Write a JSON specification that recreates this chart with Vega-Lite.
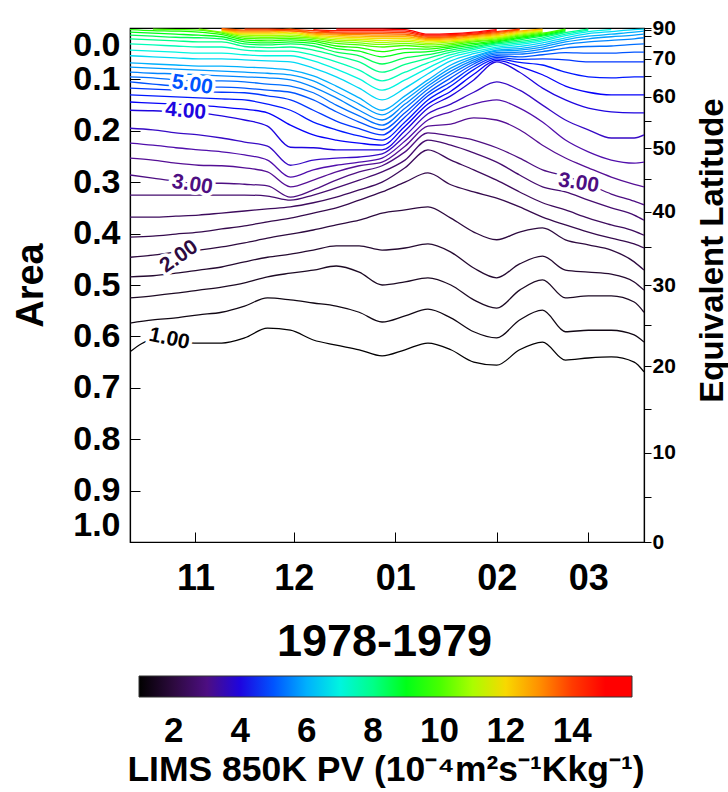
{
"$schema": "https://vega.github.io/schema/vega-lite/v6.json",
"width": 514, "height": 514,
"autosize": {"type": "none"},
"padding": {"left": 130, "top": 28, "right": 84, "bottom": 250},
"background": "white",
"config": {
 "view": {"stroke": "black", "strokeWidth": 1.2},
 "font": "Liberation Sans",
 "axis": {"grid": false, "labelFont": "Liberation Sans", "labelFontWeight": "bold", "titleFont": "Liberation Sans", "titleFontWeight": "bold", "labelColor": "black", "titleColor": "black", "tickColor": "black", "domainColor": "black", "labelOverlap": false, "labelBound": false}
},
"datasets": {
 "levels": [{"k":"100","v":1},{"k":"125","v":1.25},{"k":"150","v":1.5},{"k":"175","v":1.75},{"k":"200","v":2},{"k":"225","v":2.25},{"k":"250","v":2.5},{"k":"275","v":2.75},{"k":"300","v":3},{"k":"325","v":3.25},{"k":"350","v":3.5},{"k":"375","v":3.75},{"k":"400","v":4},{"k":"425","v":4.25},{"k":"450","v":4.5},{"k":"475","v":4.75},{"k":"500","v":5},{"k":"525","v":5.25},{"k":"550","v":5.5},{"k":"575","v":5.75},{"k":"600","v":6},{"k":"650","v":6.5},{"k":"700","v":7},{"k":"750","v":7.5},{"k":"800","v":8},{"k":"850","v":8.5},{"k":"900","v":9},{"k":"950","v":9.5},{"k":"1000","v":10},{"k":"1050","v":10.5},{"k":"1100","v":11},{"k":"1150","v":11.5},{"k":"1200","v":12},{"k":"1250","v":12.5},{"k":"1300","v":13},{"k":"1350","v":13.5},{"k":"1400","v":14},{"k":"1450","v":14.5},{"k":"1500","v":15}],
 "labels": [
  {"t":"1.00","v":1,"d":"1978-10-24","a":0.605},
  {"t":"2.00","v":2,"d":"1978-10-27","a":0.445},
  {"t":"3.00","v":3,"d":"1978-10-31","a":0.305},
  {"t":"4.00","v":4,"d":"1978-10-29","a":0.162},
  {"t":"5.00","v":5,"d":"1978-10-31","a":0.111},
  {"t":"3.00","v":3,"d":"1979-02-26","a":0.302}
 ],
 "grid": [
  {"d":"1978-10-12","100":0.630,"125":0.574,"150":0.525,"175":0.484,"200":0.446,"225":0.407,"250":0.368,"275":0.325,"300":0.286,"325":0.253,"350":0.224,"375":0.195,"400":0.160,"425":0.144,"450":0.130,"475":0.117,"500":0.105,"525":0.095,"550":0.086,"575":0.076,"600":0.068,"650":0.054,"700":0.043,"750":0.031,"800":0.021,"850":0.014,"900":0.008,"950":0.003},
  {"d":"1978-10-19","100":0.607,"125":0.568,"150":0.521,"175":0.482,"200":0.442,"225":0.405,"250":0.368,"275":0.325,"300":0.292,"325":0.257,"350":0.228,"375":0.198,"400":0.161,"425":0.146,"450":0.132,"475":0.119,"500":0.109,"525":0.097,"550":0.088,"575":0.078,"600":0.070,"650":0.056,"700":0.045,"750":0.033,"800":0.023,"850":0.016,"900":0.010,"950":0.005,"1000":0.002},
  {"d":"1978-10-26","100":0.611,"125":0.564,"150":0.516,"175":0.477,"200":0.436,"225":0.401,"250":0.366,"275":0.325,"300":0.298,"325":0.263,"350":0.233,"375":0.204,"400":0.163,"425":0.148,"450":0.134,"475":0.121,"500":0.113,"525":0.101,"550":0.089,"575":0.080,"600":0.072,"650":0.058,"700":0.047,"750":0.035,"800":0.025,"850":0.018,"900":0.012,"950":0.006,"1000":0.003},
  {"d":"1978-11-02","100":0.613,"125":0.558,"150":0.510,"175":0.471,"200":0.432,"225":0.397,"250":0.364,"275":0.325,"300":0.302,"325":0.267,"350":0.237,"375":0.208,"400":0.165,"425":0.150,"450":0.136,"475":0.123,"500":0.115,"525":0.103,"550":0.091,"575":0.082,"600":0.074,"650":0.060,"700":0.049,"750":0.037,"800":0.027,"850":0.019,"900":0.014,"950":0.008,"1000":0.004,"1050":0.002},
  {"d":"1978-11-09","100":0.613,"125":0.553,"150":0.504,"175":0.465,"200":0.426,"225":0.391,"250":0.360,"275":0.325,"300":0.302,"325":0.268,"350":0.241,"375":0.214,"400":0.171,"425":0.154,"450":0.138,"475":0.125,"500":0.115,"525":0.103,"550":0.093,"575":0.084,"600":0.074,"650":0.060,"700":0.049,"750":0.037,"800":0.027,"850":0.021,"900":0.017,"950":0.013,"1000":0.010,"1050":0.008,"1100":0.006,"1150":0.005,"1200":0.004,"1250":0.003,"1300":0.002,"1350":0.001},
  {"d":"1978-11-16","100":0.603,"125":0.541,"150":0.496,"175":0.455,"200":0.418,"225":0.385,"250":0.356,"275":0.325,"300":0.304,"325":0.272,"350":0.247,"375":0.222,"400":0.179,"425":0.158,"450":0.140,"475":0.126,"500":0.117,"525":0.105,"550":0.095,"575":0.086,"600":0.076,"650":0.062,"700":0.052,"750":0.043,"800":0.036,"850":0.031,"900":0.027,"950":0.023,"1000":0.020,"1050":0.017,"1100":0.014,"1150":0.012,"1200":0.010,"1250":0.008,"1300":0.006,"1350":0.004,"1400":0.002},
  {"d":"1978-11-23","100":0.584,"125":0.525,"150":0.484,"175":0.446,"200":0.409,"225":0.377,"250":0.352,"275":0.327,"300":0.307,"325":0.280,"350":0.257,"375":0.230,"400":0.191,"425":0.165,"450":0.148,"475":0.132,"500":0.121,"525":0.109,"550":0.097,"575":0.088,"600":0.078,"650":0.064,"700":0.054,"750":0.045,"800":0.038,"850":0.033,"900":0.029,"950":0.025,"1000":0.021,"1050":0.018,"1100":0.015,"1150":0.012,"1200":0.010,"1250":0.008,"1300":0.006,"1350":0.004,"1400":0.002},
  {"d":"1978-11-30","100":0.588,"125":0.529,"150":0.477,"175":0.440,"200":0.401,"225":0.370,"250":0.348,"275":0.335,"300":0.329,"325":0.309,"350":0.290,"375":0.267,"400":0.232,"425":0.189,"450":0.160,"475":0.140,"500":0.125,"525":0.113,"550":0.101,"575":0.091,"600":0.082,"650":0.066,"700":0.054,"750":0.045,"800":0.037,"850":0.031,"900":0.027,"950":0.023,"1000":0.020,"1050":0.017,"1100":0.014,"1150":0.011,"1200":0.008,"1250":0.005,"1300":0.002},
  {"d":"1978-12-07","100":0.607,"125":0.535,"150":0.471,"175":0.432,"200":0.393,"225":0.360,"250":0.340,"275":0.325,"300":0.315,"325":0.296,"350":0.276,"375":0.257,"400":0.233,"425":0.208,"450":0.183,"475":0.160,"500":0.140,"525":0.126,"550":0.115,"575":0.103,"600":0.093,"650":0.078,"700":0.064,"750":0.053,"800":0.043,"850":0.035,"900":0.030,"950":0.026,"1000":0.023,"1050":0.020,"1100":0.018,"1150":0.016,"1200":0.014,"1250":0.012,"1300":0.010,"1350":0.008,"1400":0.005,"1450":0.003},
  {"d":"1978-12-14","100":0.617,"125":0.541,"150":0.463,"175":0.424,"200":0.383,"225":0.350,"250":0.329,"275":0.311,"300":0.296,"325":0.280,"350":0.267,"375":0.253,"400":0.237,"425":0.218,"450":0.198,"475":0.181,"500":0.163,"525":0.150,"550":0.136,"575":0.125,"600":0.113,"650":0.095,"700":0.080,"750":0.066,"800":0.054,"850":0.047,"900":0.040,"950":0.035,"1000":0.030,"1050":0.026,"1100":0.023,"1150":0.020,"1200":0.017,"1250":0.014,"1300":0.012,"1350":0.010,"1400":0.008,"1450":0.005,"1500":0.002},
  {"d":"1978-12-21","100":0.626,"125":0.553,"150":0.475,"175":0.424,"200":0.374,"225":0.335,"250":0.315,"275":0.296,"300":0.280,"325":0.268,"350":0.261,"375":0.251,"400":0.237,"425":0.224,"450":0.210,"475":0.196,"500":0.183,"525":0.171,"550":0.160,"575":0.148,"600":0.136,"650":0.117,"700":0.099,"750":0.082,"800":0.066,"850":0.054,"900":0.045,"950":0.038,"1000":0.033,"1050":0.029,"1100":0.025,"1150":0.022,"1200":0.019,"1250":0.016,"1300":0.013,"1350":0.011,"1400":0.008,"1450":0.005,"1500":0.002},
  {"d":"1978-12-28","100":0.638,"125":0.572,"150":0.500,"175":0.432,"200":0.360,"225":0.319,"250":0.300,"275":0.280,"300":0.268,"325":0.261,"350":0.253,"375":0.245,"400":0.237,"425":0.228,"450":0.218,"475":0.208,"500":0.198,"525":0.189,"550":0.179,"575":0.169,"600":0.160,"650":0.140,"700":0.121,"750":0.103,"800":0.086,"850":0.070,"900":0.056,"950":0.046,"1000":0.037,"1050":0.032,"1100":0.028,"1150":0.024,"1200":0.020,"1250":0.017,"1300":0.014,"1350":0.011,"1400":0.008,"1450":0.005,"1500":0.002},
  {"d":"1979-01-04","100":0.626,"125":0.560,"150":0.494,"175":0.428,"200":0.354,"225":0.300,"250":0.272,"275":0.257,"300":0.241,"325":0.230,"350":0.220,"375":0.210,"400":0.200,"425":0.191,"450":0.183,"475":0.173,"500":0.165,"525":0.156,"550":0.148,"575":0.140,"600":0.132,"650":0.117,"700":0.101,"750":0.086,"800":0.071,"850":0.058,"900":0.048,"950":0.040,"1000":0.034,"1050":0.030,"1100":0.026,"1150":0.023,"1200":0.020,"1250":0.017,"1300":0.014,"1350":0.012,"1400":0.009,"1450":0.006,"1500":0.003},
  {"d":"1979-01-11","100":0.613,"125":0.547,"150":0.486,"175":0.420,"200":0.348,"225":0.282,"250":0.237,"275":0.218,"300":0.204,"325":0.191,"350":0.179,"375":0.167,"400":0.156,"425":0.148,"450":0.140,"475":0.132,"500":0.126,"525":0.119,"550":0.113,"575":0.107,"600":0.101,"650":0.089,"700":0.078,"750":0.068,"800":0.059,"850":0.052,"900":0.046,"950":0.041,"1000":0.037,"1050":0.033,"1100":0.030,"1150":0.027,"1200":0.024,"1250":0.022,"1300":0.020,"1350":0.018,"1400":0.016,"1450":0.014,"1500":0.012},
  {"d":"1979-01-18","100":0.626,"125":0.564,"150":0.500,"175":0.436,"200":0.370,"225":0.305,"250":0.257,"275":0.228,"300":0.210,"325":0.187,"350":0.163,"375":0.148,"400":0.132,"425":0.123,"450":0.113,"475":0.105,"500":0.097,"525":0.090,"550":0.084,"575":0.078,"600":0.072,"650":0.064,"700":0.057,"750":0.052,"800":0.047,"850":0.043,"900":0.039,"950":0.036,"1000":0.033,"1050":0.030,"1100":0.027,"1150":0.025,"1200":0.023,"1250":0.021,"1300":0.019,"1350":0.017,"1400":0.015,"1450":0.013,"1500":0.011},
  {"d":"1979-01-25","100":0.650,"125":0.591,"150":0.529,"175":0.467,"200":0.397,"225":0.319,"250":0.276,"275":0.243,"300":0.218,"325":0.175,"350":0.148,"375":0.125,"400":0.101,"425":0.090,"450":0.081,"475":0.075,"500":0.070,"525":0.066,"550":0.062,"575":0.058,"600":0.055,"650":0.050,"700":0.046,"750":0.042,"800":0.039,"850":0.036,"900":0.033,"950":0.030,"1000":0.027,"1050":0.025,"1100":0.023,"1150":0.021,"1200":0.019,"1250":0.017,"1300":0.015,"1350":0.013,"1400":0.012,"1450":0.010,"1500":0.008},
  {"d":"1979-02-01","100":0.656,"125":0.603,"150":0.545,"175":0.486,"200":0.412,"225":0.331,"250":0.296,"275":0.261,"300":0.233,"325":0.179,"350":0.140,"375":0.105,"400":0.066,"425":0.063,"450":0.060,"475":0.057,"500":0.054,"525":0.051,"550":0.048,"575":0.045,"600":0.043,"650":0.040,"700":0.037,"750":0.034,"800":0.031,"850":0.029,"900":0.027,"950":0.025,"1000":0.023,"1050":0.021,"1100":0.019,"1150":0.017,"1200":0.015,"1250":0.013,"1300":0.011,"1350":0.009,"1400":0.007,"1450":0.005,"1500":0.003},
  {"d":"1979-02-08","100":0.626,"125":0.568,"150":0.510,"175":0.459,"200":0.397,"225":0.348,"250":0.319,"275":0.286,"300":0.253,"325":0.198,"350":0.156,"375":0.121,"400":0.086,"425":0.075,"450":0.067,"475":0.061,"500":0.056,"525":0.051,"550":0.047,"575":0.043,"600":0.040,"650":0.036,"700":0.032,"750":0.029,"800":0.026,"850":0.023,"900":0.020,"950":0.018,"1000":0.016,"1050":0.014,"1100":0.012,"1150":0.010,"1200":0.008,"1250":0.006,"1300":0.004,"1350":0.003,"1400":0.002},
  {"d":"1979-02-15","100":0.611,"125":0.549,"150":0.490,"175":0.444,"200":0.389,"225":0.368,"250":0.340,"275":0.309,"300":0.276,"325":0.228,"350":0.183,"375":0.150,"400":0.117,"425":0.091,"450":0.072,"475":0.060,"500":0.052,"525":0.046,"550":0.041,"575":0.037,"600":0.033,"650":0.029,"700":0.025,"750":0.022,"800":0.019,"850":0.016,"900":0.014,"950":0.012,"1000":0.010,"1050":0.008,"1100":0.006,"1150":0.005,"1200":0.003,"1250":0.002},
  {"d":"1979-02-22","100":0.646,"125":0.591,"150":0.525,"175":0.471,"200":0.412,"225":0.383,"250":0.354,"275":0.319,"300":0.288,"325":0.253,"350":0.218,"375":0.179,"400":0.140,"425":0.113,"450":0.086,"475":0.062,"500":0.048,"525":0.039,"550":0.032,"575":0.027,"600":0.023,"650":0.019,"700":0.015,"750":0.012,"800":0.009,"850":0.007,"900":0.005,"950":0.003,"1000":0.002},
  {"d":"1979-03-01","100":0.642,"125":0.588,"150":0.521,"175":0.475,"200":0.422,"225":0.397,"250":0.370,"275":0.335,"300":0.304,"325":0.272,"350":0.241,"375":0.198,"400":0.156,"425":0.125,"450":0.095,"475":0.066,"500":0.049,"525":0.036,"550":0.027,"575":0.021,"600":0.016,"650":0.011,"700":0.007,"750":0.004,"800":0.002},
  {"d":"1979-03-08","100":0.640,"125":0.588,"150":0.521,"175":0.479,"200":0.432,"225":0.409,"250":0.383,"275":0.350,"300":0.323,"325":0.290,"350":0.257,"375":0.214,"400":0.163,"425":0.130,"450":0.097,"475":0.066,"500":0.049,"525":0.035,"550":0.024,"575":0.017,"600":0.012,"650":0.007,"700":0.003},
  {"d":"1979-03-15","100":0.650,"125":0.597,"150":0.533,"175":0.494,"200":0.455,"225":0.420,"250":0.395,"275":0.364,"300":0.337,"325":0.304,"350":0.263,"375":0.214,"400":0.165,"425":0.130,"450":0.095,"475":0.066,"500":0.047,"525":0.032,"550":0.021,"575":0.014,"600":0.008,"650":0.003},
  {"d":"1979-03-18","100":0.669,"125":0.611,"150":0.553,"175":0.510,"200":0.471,"225":0.428,"250":0.403,"275":0.374,"300":0.344,"325":0.309,"350":0.261,"375":0.208,"400":0.165,"425":0.130,"450":0.095,"475":0.066,"500":0.047,"525":0.031,"550":0.019,"575":0.012,"600":0.006,"650":0.002}
 ]
},
"encoding": {
 "x": {"field": "d", "type": "temporal",
  "scale": {"type": "utc", "domain": [{"year":1978,"month":10,"date":12,"utc":true},{"year":1979,"month":3,"date":18,"utc":true}], "nice": false},
  "axis": {"title": "1978-1979", "values": [{"year":1978,"month":11,"date":1,"utc":true},{"year":1978,"month":12,"date":1,"utc":true},{"year":1979,"month":1,"date":1,"utc":true},{"year":1979,"month":2,"date":1,"utc":true},{"year":1979,"month":3,"date":1,"utc":true}],
   "format": "%m", "labelFontSize": 36, "tickSize": -10, "labelPadding": 29, "labelFlush": false, "titleFontSize": 45, "titleX": 254, "titleY": 113, "titleBaseline": "alphabetic", "titleAlign": "center", "domainWidth": 1.2}}
},
"layer": [
 {
  "data": {"name": "grid"},
  "transform": [
   {"fold": ["100","125","150","175","200","225","250","275","300","325","350","375","400","425","450","475","500","525","550","575","600","650","700","750","800","850","900","950","1000","1050","1100","1150","1200","1250","1300","1350","1400","1450","1500"], "as": ["k","a"]},
   {"filter": "isValid(datum.a)"},
   {"lookup": "k", "from": {"data": {"name": "levels"}, "key": "k", "fields": ["v"]}}
  ],
  "mark": {"type": "line", "strokeWidth": 1.3, "interpolate": "monotone", "clip": true},
  "encoding": {
   "y": {"field": "a", "type": "quantitative",
    "scale": {"domain": [0, 1], "reverse": true, "nice": false, "zero": false},
    "axis": {"title": "Area", "values": [0,0.1,0.2,0.3,0.4,0.5,0.6,0.7,0.8,0.9,1], "format": ".1f", "labelFontSize": 34, "labelFlush": true, "tickSize": -10, "labelPadding": 20, "titleFontSize": 38, "titleX": -88, "titleY": 257, "titleAngle": 270, "titleBaseline": "alphabetic", "titleAlign": "center", "domainWidth": 1.2}},
   "detail": {"field": "k", "type": "nominal"},
   "color": {"field": "v", "type": "quantitative",
    "scale": {"domain": [0.95,1.4,2.4,3.4,4.3,5.1,5.9,6.8,7.6,8.4,9.2,10.1,10.9,11.7,12.3,13.0,13.7,14.4,15.0,15.8],
     "range": ["#000000","#1a0a1e","#3a0a55","#5a10a0","#0000ff","#0060ff","#00a8ff","#00f0f0","#00ffb0","#00ff60","#00ff00","#50ff00","#a0ff00","#f0f000","#ffc000","#ff9000","#ff5000","#ff2000","#ff0000","#ff0000"], "interpolate": "rgb"},
    "legend": {"type": "gradient", "orient": "none", "legendX": -3, "legendY": 648, "direction": "horizontal", "gradientLength": 493, "gradientThickness": 21, "gradientStrokeColor": "#333333", "gradientStrokeWidth": 1, "values": [2,4,6,8,10,12,14], "labelFontSize": 35, "labelFont": "Liberation Sans", "labelFontWeight": "bold", "labelColor": "black", "labelOffset": 17, "labelOverlap": false, "title": "LIMS 850K PV (10⁻⁴m²s⁻¹Kkg⁻¹)", "titleOrient": "bottom", "titleFont": "Liberation Sans", "titleFontSize": 35.5, "titleFontWeight": "bold", "titleColor": "black", "titleAnchor": "middle", "titleLimit": 0, "titlePadding": 4, "padding": 0}}
  }
 },
 {
  "data": {"name": "labels"},
  "mark": {"type": "text", "fill": "white", "stroke": "white", "strokeWidth": 7, "font": "Liberation Sans", "fontSize": 21, "fontWeight": "bold", "align": "center", "baseline": "middle"},
  "encoding": {
   "y": {"field": "a", "type": "quantitative", "axis": null},
   "text": {"field": "t"},
   "angle": {"condition": [{"test": "datum.t == '2.00'", "value": 325}, {"test": "datum.t == '1.00'", "value": 12}, {"test": "datum.t == '4.00'", "value": 5}], "value": 9}
  }
 },
 {
  "data": {"name": "labels"},
  "mark": {"type": "text", "font": "Liberation Sans", "fontSize": 21, "fontWeight": "bold", "align": "center", "baseline": "middle"},
  "encoding": {
   "y": {"field": "a", "type": "quantitative",
    "axis": {"orient": "right", "title": "Equivalent Latitude", "values": [0,0.00381,0.01519,0.03407,0.06031,0.09369,0.13397,0.18085,0.23396,0.29289,0.35721,0.42642,0.5,0.57738,0.65798,0.74118,0.82635,0.91284,1],
     "labelExpr": "(round(asin(1 - datum.value) * 180 / PI) % 10 == 0 && round(asin(1 - datum.value) * 180 / PI) != 80) ? '' + round(asin(1 - datum.value) * 180 / PI) : ''",
     "labelFontSize": 21, "labelFlush": false, "tickSize": 7, "labelPadding": 1, "titleFontSize": 33, "titleX": 78, "titleY": 222, "titleAngle": 270, "titleBaseline": "alphabetic", "titleAlign": "center", "domainWidth": 1.2}},
   "text": {"field": "t"},
   "color": {"field": "v", "type": "quantitative",
    "scale": {"domain": [0.95,1.4,2.4,3.4,4.3,5.1,5.9,6.8,7.6,8.4,9.2,10.1,10.9,11.7,12.3,13.0,13.7,14.4,15.0,15.8],
     "range": ["#000000","#1a0a1e","#3a0a55","#5a10a0","#0000ff","#0060ff","#00a8ff","#00f0f0","#00ffb0","#00ff60","#00ff00","#50ff00","#a0ff00","#f0f000","#ffc000","#ff9000","#ff5000","#ff2000","#ff0000","#ff0000"], "interpolate": "rgb"},
    "legend": null},
   "angle": {"condition": [{"test": "datum.t == '2.00'", "value": 325}, {"test": "datum.t == '1.00'", "value": 12}, {"test": "datum.t == '4.00'", "value": 5}], "value": 9}
  }
 }
],
"resolve": {"axis": {"y": "independent"}, "scale": {"color": "independent"}}
}
